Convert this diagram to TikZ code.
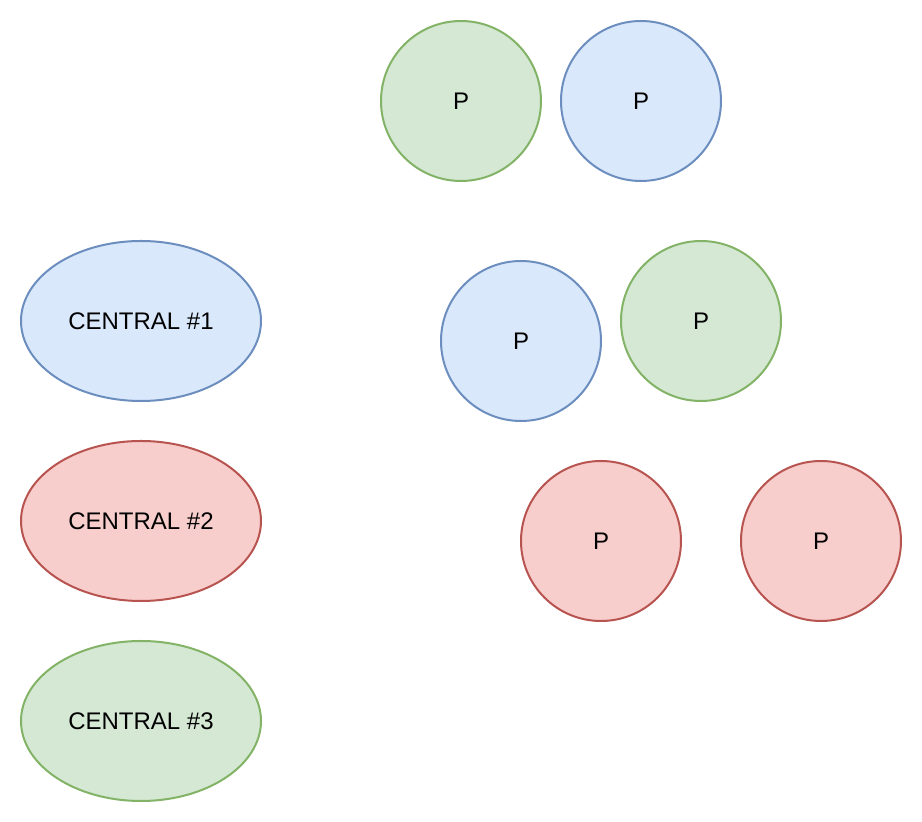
\documentclass[tikz,border=0pt]{standalone}
\usepackage{fontspec}
\setmainfont{Liberation Sans}
\usetikzlibrary{shapes.geometric}
\definecolor{bluefill}{HTML}{DAE8FC}
\definecolor{bluedraw}{HTML}{6C8EBF}
\definecolor{redfill}{HTML}{F8CECC}
\definecolor{reddraw}{HTML}{B85450}
\definecolor{greenfill}{HTML}{D5E8D4}
\definecolor{greendraw}{HTML}{82B366}
\tikzset{
  base/.style={line width=1pt, inner sep=0pt, font=\fontsize{12}{14}\selectfont},
  central/.style={base, ellipse, minimum width=120pt, minimum height=80pt},
  pcirc/.style={base, circle, minimum size=80pt},
  bluec/.style={fill=bluefill, draw=bluedraw},
  redc/.style={fill=redfill, draw=reddraw},
  greenc/.style={fill=greenfill, draw=greendraw},
}
\begin{document}
\begin{tikzpicture}[x=0.5pt,y=-0.5pt]
\useasboundingbox (0,0) rectangle (922,822);
\node[central,bluec] (c1) at (141,321) {CENTRAL \#1};
\node[central,redc] (c2) at (141,521) {CENTRAL \#2};
\node[central,greenc] (c3) at (141,721) {CENTRAL \#3};
\node[pcirc,greenc] (p1) at (461,101) {P};
\node[pcirc,bluec] (p2) at (641,101) {P};
\node[pcirc,bluec] (p3) at (521,341) {P};
\node[pcirc,greenc] (p4) at (701,321) {P};
\node[pcirc,redc] (p5) at (601,541) {P};
\node[pcirc,redc] (p6) at (821,541) {P};
\end{tikzpicture}
\end{document}
